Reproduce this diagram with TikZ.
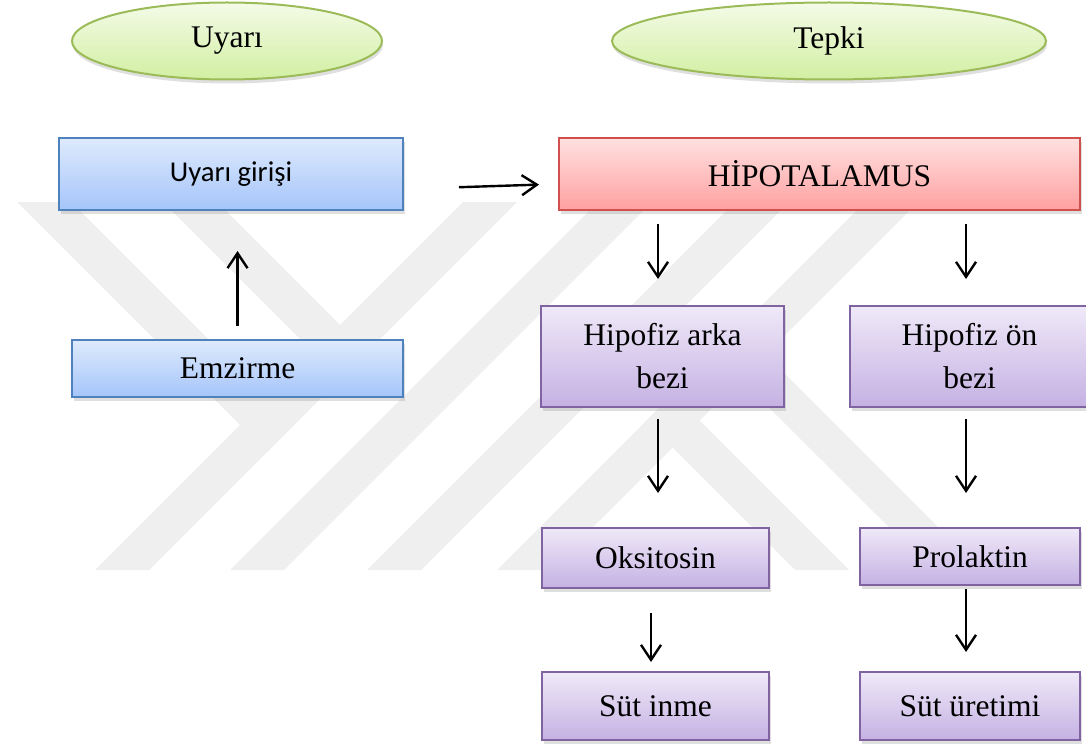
\documentclass[tikz,border=0pt]{standalone}
\usepackage{fontspec}
\setmainfont{Liberation Serif}
\newfontfamily\calibrifont{Carlito}
\usetikzlibrary{shapes.geometric, arrows.meta, shadows}
\definecolor{markgray}{HTML}{EFEFEF}
\definecolor{ellborder}{HTML}{9BBB59}
\definecolor{elltop}{HTML}{F4FBE8}
\definecolor{ellbottom}{HTML}{D2EFA2}
\definecolor{blueborder}{HTML}{4F81BD}
\definecolor{bluetop}{HTML}{DEEAFD}
\definecolor{bluebottom}{HTML}{A5C5FA}
\definecolor{redborder}{HTML}{D0504D}
\definecolor{redtop}{HTML}{FFE1E1}
\definecolor{redbottom}{HTML}{FFA0A0}
\definecolor{purpleborder}{HTML}{8064A2}
\definecolor{purpletop}{HTML}{EFE9F8}
\definecolor{purplebottom}{HTML}{C5B1E3}

\begin{document}
\begin{tikzpicture}[x=1pt, y=-1pt,
    box/.style={rectangle, line width=2pt, inner sep=0pt, align=center,
      font=\fontsize{31.5}{43}\selectfont,
      drop shadow={shadow xshift=2pt, shadow yshift=-4pt, opacity=0.25}},
    bluebox/.style={box, draw=blueborder, top color=bluetop, bottom color=bluebottom},
    redbox/.style={box, draw=redborder, top color=redtop, bottom color=redbottom},
    purplebox/.style={box, draw=purpleborder, top color=purpletop, bottom color=purplebottom},
    bubble/.style={ellipse, line width=2pt, inner sep=0pt, draw=ellborder,
      top color=elltop, bottom color=ellbottom, minimum height=77pt,
      font=\fontsize{31.5}{43}\selectfont,
      drop shadow={shadow xshift=1pt, shadow yshift=-4pt, opacity=0.25}},
    arr/.style={-{Straight Barb[length=15pt,width=20pt]}, line width=2.4pt}
  ]
  \useasboundingbox (0,0) rectangle (1086,746);

  % watermark
  \fill[markgray] (463,202) -- (517,202) -- (149,570) -- (95,570) -- cycle;
  \fill[markgray] (17,202) -- (71,202) -- (294,425) -- (267,452) -- cycle;
  \fill[markgray] (163,202) -- (217,202) -- (367,352) -- (340,379) -- cycle;
  \fill[markgray] (598,202) -- (652,202) -- (284,570) -- (230,570) -- cycle;
  \fill[markgray] (735,202) -- (789,202) -- (421,570) -- (367,570) -- cycle;
  \fill[markgray] (865,202) -- (918,202) -- (550,570) -- (497,570) -- cycle;
  \fill[markgray] (646,421) -- (673,394) -- (849,570) -- (795,570) -- cycle;
  \fill[markgray] (714,353) -- (739,328) -- (981,570) -- (932,570) -- cycle;

  \node[bubble, minimum width=310pt] (uyari) at (227,41) {Uyarı};
  \node[bubble, minimum width=434pt] (tepki) at (829,41) {Tepki};

  \node[bluebox, minimum width=344pt, minimum height=72pt,
    font=\calibrifont\fontsize{28.7}{34}\selectfont] (giris) at (231,174) {Uyarı girişi};
  \node[bluebox, minimum width=331pt, minimum height=57pt] (emzirme) at (237.5,368.5) {Emzirme};

  \node[redbox, minimum width=521pt, minimum height=72pt] (hipo) at (819.5,174) {HİPOTALAMUS};
  \node[purplebox, minimum width=243pt, minimum height=101pt] (arka) at (662.5,356.5) {Hipofiz arka\\bezi};
  \node[purplebox, minimum width=239pt, minimum height=101pt] (on) at (969.5,356.5) {Hipofiz ön\\bezi};
  \node[purplebox, minimum width=227pt, minimum height=60pt] (oks) at (655.5,558) {Oksitosin};
  \node[purplebox, minimum width=220pt, minimum height=57pt] (prol) at (970,556.5) {Prolaktin};
  \node[purplebox, minimum width=227pt, minimum height=68pt] (inme) at (655.5,706) {Süt inme};
  \node[purplebox, minimum width=220pt, minimum height=68pt] (uretim) at (970,706) {Süt üretimi};

  \draw[arr, shorten <=13pt, shorten >=40pt] (emzirme.north) -- (emzirme.north |- giris.south);
  \draw[arr, shorten <=55pt, shorten >=19pt] ([yshift=-15pt]giris.east) -- ([yshift=-10pt]hipo.west);
  \draw[arr, shorten <=13pt, shorten >=26pt, transform canvas={xshift=-4.5pt}]
    (arka.north |- hipo.south) -- (arka.north);
  \draw[arr, shorten <=13pt, shorten >=26pt, transform canvas={xshift=-3.5pt}]
    (on.north |- hipo.south) -- (on.north);
  \draw[arr, shorten <=11pt, shorten >=34pt, transform canvas={xshift=2.5pt}]
    (oks.north |- arka.south) -- (oks.north);
  \draw[arr, shorten <=11pt, shorten >=34pt, transform canvas={xshift=-4pt}]
    (prol.north |- on.south) -- (prol.north);
  \draw[arr, shorten <=24pt, shorten >=9pt, transform canvas={xshift=-4.5pt}]
    (oks.south) -- (inme.north);
  \draw[arr, shorten <=3pt, shorten >=19pt, transform canvas={xshift=-4pt}]
    (prol.south) -- (uretim.north);
\end{tikzpicture}
\end{document}
